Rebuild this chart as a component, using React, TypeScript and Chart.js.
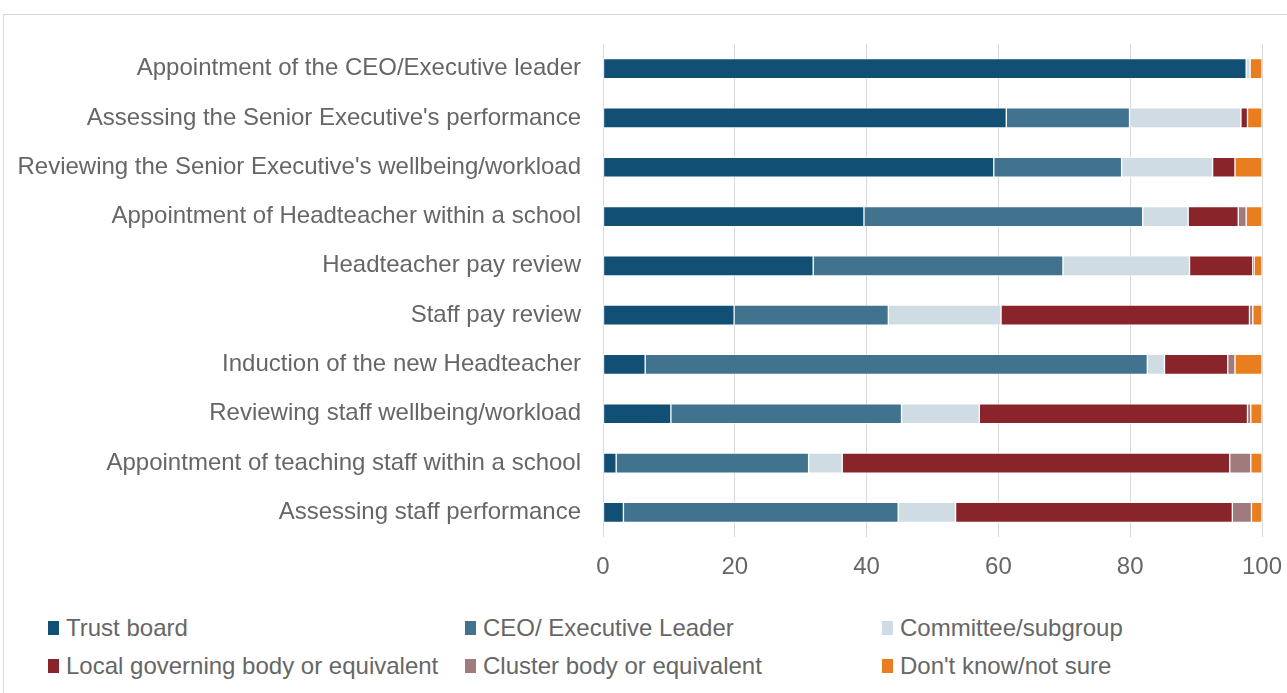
import React, { useEffect, useRef } from "react";
import { Chart, registerables } from "chart.js";

Chart.register(...registerables);

const categories = [
  "Appointment of the CEO/Executive leader",
  "Assessing the Senior Executive's performance",
  "Reviewing the Senior Executive's wellbeing/workload",
  "Appointment of Headteacher within a school",
  "Headteacher pay review",
  "Staff pay review",
  "Induction of the new Headteacher",
  "Reviewing staff wellbeing/workload",
  "Appointment of teaching staff within a school",
  "Assessing staff performance",
];

const trustBoard = [97.6, 61.2, 59.3, 39.6, 31.9, 19.9, 6.4, 10.3, 2.0, 3.1];
const ceoExecutive = [0, 18.7, 19.4, 42.3, 37.9, 23.4, 76.2, 35.0, 29.2, 41.7];
const committee = [0.6, 16.9, 13.8, 6.9, 19.2, 17.1, 2.6, 11.8, 5.1, 8.7];
const localGoverning = [0, 1.0, 3.4, 7.6, 9.6, 37.7, 9.6, 40.7, 58.8, 42.0];
const clusterBody = [0, 0, 0, 1.2, 0.2, 0.5, 1.1, 0.5, 3.2, 2.9];
const dontKnow = [1.8, 2.2, 4.1, 2.4, 1.2, 1.4, 4.1, 1.7, 1.7, 1.6];

const xTicks = [0, 20, 40, 60, 80, 100];

const seriesNames = [
  "Trust board",
  "CEO/ Executive Leader",
  "Committee/subgroup",
  "Local governing body or equivalent",
  "Cluster body or equivalent",
  "Don't know/not sure",
];
const seriesColors = ["#114F75", "#41738F", "#CFDCE3", "#89252A", "#A07A7C", "#E87E20"];
const seriesValues = [trustBoard, ceoExecutive, committee, localGoverning, clusterBody, dontKnow];

const FONT = "'Liberation Sans', Arial, sans-serif";
const TEXT = "#666666";
const FS = 24;

export default function App() {
  const ref = useRef<HTMLCanvasElement | null>(null);

  useEffect(() => {
    document.body.style.margin = "0";
    const ctx = ref.current;
    if (!ctx) return;
    const chart = new Chart(ctx, {
      type: "bar",
      data: {
        labels: categories,
        datasets: seriesNames.map((name, i) => ({
          label: name,
          data: seriesValues[i],
          backgroundColor: seriesColors[i],
          borderColor: "rgba(255,255,255,0.55)",
          borderWidth: 1,
          borderSkipped: false,
          barThickness: 20,
        })),
      },
      options: {
        indexAxis: "y",
        animation: false,
        responsive: false,
        maintainAspectRatio: false,
        layout: { padding: { top: 44, right: 25, left: 0, bottom: 0 } },
        plugins: {
          legend: { display: false },
          tooltip: { enabled: false },
        },
        scales: {
          x: {
            stacked: true,
            min: 0,
            max: 100,
            afterBuildTicks: (scale: any) => {
              scale.ticks = xTicks.map((v) => ({ value: v }));
            },
            afterFit: (scale: any) => {
              scale.height = 600 - 537;
              scale.paddingRight = 0;
            },
            grid: { color: "#d9d9d9", lineWidth: 1, drawTicks: false },
            border: { display: false },
            ticks: {
              color: TEXT,
              font: { family: FONT, size: FS },
              padding: 16,
              maxRotation: 0,
            },
          },
          y: {
            stacked: true,
            grid: { display: false, drawTicks: false },
            border: { display: false },
            afterFit: (scale: any) => {
              scale.width = 603;
            },
            ticks: {
              color: TEXT,
              font: { family: FONT, size: FS },
              padding: 22,
              autoSkip: false,
            },
          },
        },
      },
    });
    return () => chart.destroy();
  }, []);

  const colX = [48, 465, 882];
  return (
    <div
      style={{
        position: "fixed",
        left: 0,
        top: 0,
        width: 1287,
        height: 693,
        background: "#fff",
        overflow: "hidden",
        fontFamily: FONT,
      }}
    >
      <div
        style={{
          position: "absolute",
          left: 3,
          top: 14,
          width: 1400,
          height: 800,
          border: "1px solid #d9d9d9",
          boxSizing: "border-box",
        }}
      />
      <canvas
        ref={ref}
        width={1287}
        height={600}
        style={{ position: "absolute", left: 0, top: 0, width: 1287, height: 600 }}
      />
      {seriesNames.map((name, i) => {
        const col = i % 3;
        const row = Math.floor(i / 3);
        const cy = 628 + row * 38;
        return (
          <div
            key={name}
            style={{
              position: "absolute",
              left: colX[col],
              top: cy - 14,
              height: 28,
              display: "flex",
              alignItems: "center",
              whiteSpace: "nowrap",
              color: TEXT,
              fontSize: FS,
            }}
          >
            <span
              style={{
                display: "inline-block",
                width: 11,
                height: 14,
                background: seriesColors[i],
                marginRight: 7,
              }}
            />
            <span>{name}</span>
          </div>
        );
      })}
    </div>
  );
}
